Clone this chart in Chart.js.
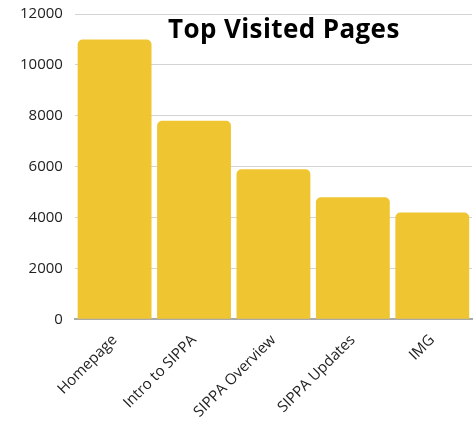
<!DOCTYPE html>
<html>
<head>
<meta charset="utf-8">
<script src="https://cdn.jsdelivr.net/npm/chart.js@4"></script>
<style>
  html, body { margin: 0; padding: 0; background: #fff; }
  #wrap { position: relative; width: 475px; height: 423px; overflow: hidden; }
  #myChart { position: absolute; left: 0; top: -7px; }
  #title {
    position: absolute; left: 168px; top: 15px;
    font: bold 26px/26px "Open Sans", sans-serif; color: #000;
    letter-spacing: 0.4px;
    white-space: nowrap;
  }
</style>
</head>
<body>
<div id="wrap">
  <canvas id="myChart" width="475" height="432"></canvas>
  <div id="title">Top Visited Pages</div>
</div>
<script>
const pages = ['Homepage', 'Intro to SIPPA', 'SIPPA Overview', 'SIPPA Updates', 'IMG'];
const visits = [11000, 7800, 5900, 4800, 4200];
const yTicks = [0, 2000, 4000, 6000, 8000, 10000, 12000];

function mainEvent() {
    const ctx = document.querySelector('#myChart');

    new Chart(ctx, {
        type: 'bar',
        data: {
            labels: pages,
            datasets: [{
                label: 'Visits',
                data: visits,
                backgroundColor: '#EFC631',
                borderRadius: { topLeft: 5, topRight: 5 },
                borderSkipped: 'bottom',
                barPercentage: 0.93,
                categoryPercentage: 1.0
            }]
        },
        options: {
            responsive: false,
            animation: false,
            layout: { padding: { top: 0, right: 3, left: 8, bottom: 0 } },
            plugins: {
                legend: { display: false },
                tooltip: { enabled: false }
            },
            scales: {
                x: {
                    grid: { display: false },
                    border: { display: true, color: '#aaaaaa', width: 2 },
                    ticks: {
                        color: '#222',
                        font: { family: 'Open Sans', size: 15 },
                        maxRotation: 45,
                        minRotation: 45,
                        padding: 4
                    }
                },
                y: {
                    min: 0,
                    max: 12000,
                    afterBuildTicks: axis => { axis.ticks = yTicks.map(v => ({ value: v })); },
                    grid: { color: '#d4d4d4', drawTicks: false },
                    border: { display: false },
                    ticks: {
                        color: '#222',
                        font: { family: 'Open Sans', size: 15 },
                        padding: 12,
                        callback: v => String(v)
                    }
                }
            }
        }
    });
}

document.addEventListener("DOMContentLoaded", () => mainEvent());
</script>
</body>
</html>
